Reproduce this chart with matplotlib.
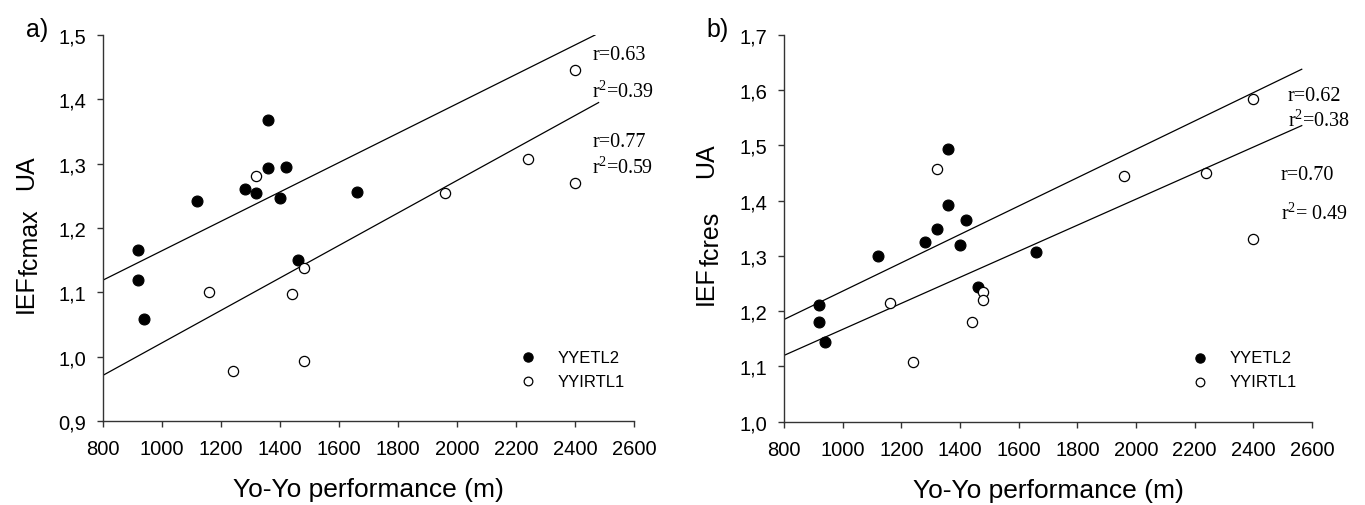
import matplotlib
matplotlib.use("Agg")
import matplotlib.pyplot as plt
from matplotlib.ticker import FuncFormatter, MultipleLocator

# ---------------- data ----------------
# Panel a: IEF fcmax
a_etl2_x = [920, 920, 940, 1120, 1280, 1320, 1360, 1360, 1400, 1420, 1460, 1660]
a_etl2_y = [1.166, 1.119, 1.059, 1.242, 1.260, 1.254, 1.368, 1.293, 1.246, 1.295, 1.150, 1.256]
a_irtl_x = [1160, 1240, 1320, 1440, 1480, 1480, 1960, 2240, 2400, 2400]
a_irtl_y = [1.100, 0.978, 1.281, 1.097, 1.138, 0.994, 1.255, 1.308, 1.445, 1.270]
a_fit_upper_x = [800, 2468]
a_fit_upper_y = [1.119, 1.500]
a_fit_lower_x = [800, 2480]
a_fit_lower_y = [0.971, 1.395]

# Panel b: IEF fcres
b_etl2_x = [920, 920, 940, 1120, 1280, 1320, 1360, 1360, 1400, 1420, 1460, 1660]
b_etl2_y = [1.211, 1.181, 1.144, 1.300, 1.325, 1.349, 1.493, 1.393, 1.319, 1.365, 1.243, 1.307]
b_irtl_x = [1160, 1240, 1320, 1440, 1480, 1480, 1960, 2240, 2400, 2400]
b_irtl_y = [1.214, 1.108, 1.457, 1.181, 1.234, 1.220, 1.444, 1.451, 1.585, 1.331]
b_fit_upper_x = [800, 2565]
b_fit_upper_y = [1.185, 1.638]
b_fit_lower_x = [800, 2565]
b_fit_lower_y = [1.120, 1.536]

legend_labels = ["YYETL2", "YYIRTL1"]
xlabel = "Yo-Yo performance (m)"
a_ylabel_parts = ["IEF", "fcmax", "UA"]
b_ylabel_parts = ["IEF", "fcres", "UA"]
a_stats = [("r=0.63", 2458, 1.470), (r"r$^{\mathregular{2}}$=0.39", 2458, 1.413),
           ("r=0.77", 2458, 1.334), (r"r$^{\mathregular{2}}$=0.59", 2458, 1.295)]
b_stats = [("r=0.62", 2518, 1.590), (r"r$^{\mathregular{2}}$=0.38", 2518, 1.545),
           ("r=0.70", 2494, 1.448), (r"r$^{\mathregular{2}}$= 0.49", 2494, 1.378)]

# ---------------- style ----------------
plt.rcParams['font.family'] = ['Liberation Sans', 'DejaVu Sans']
plt.rcParams['mathtext.fontset'] = 'custom'
plt.rcParams['mathtext.rm'] = 'Liberation Serif'
plt.rcParams['mathtext.default'] = 'regular'

fig = plt.figure(figsize=(13.65, 5.06), dpi=100)
W, H = 1365, 506
ax_a = fig.add_axes([103 / W, (H - 422) / H, 531 / W, 386 / H])
ax_b = fig.add_axes([784 / W, (H - 422.7) / H, 528 / W, 386.7 / H])

comma = FuncFormatter(lambda v, p: f"{v:.1f}".replace(".", ","))


def draw(ax, ex, ey, ix, iy, fux, fuy, flx, fly, ylim, stats, leg_x):
    ax.plot(fux, fuy, color='black', lw=0.9, zorder=2)
    ax.plot(flx, fly, color='black', lw=0.9, zorder=2)
    ax.scatter(ex, ey, s=62, facecolor='black', edgecolor='black', lw=0.8,
               zorder=3, label=legend_labels[0])
    ax.scatter(ix, iy, s=54, facecolor='white', edgecolor='black', lw=0.9,
               zorder=3, label=legend_labels[1])
    ax.set_xlim(800, 2600)
    ax.set_ylim(*ylim)
    ax.xaxis.set_major_locator(MultipleLocator(200))
    ax.yaxis.set_major_locator(MultipleLocator(0.1))
    ax.yaxis.set_major_formatter(comma)
    for s in ['top', 'right']:
        ax.spines[s].set_visible(False)
    for s in ['left', 'bottom']:
        ax.spines[s].set_color('#333333')
        ax.spines[s].set_linewidth(1.0)
    ax.tick_params(axis='both', direction='out', length=4, width=1.0,
                   color='#333333', labelsize=14.5)
    ax.tick_params(axis='x', pad=9)
    ax.tick_params(axis='y', pad=8)
    ax.set_xlabel(xlabel, fontsize=19)
    ax.xaxis.set_label_coords(0.5, -0.145)
    for t, x, y in stats:
        ax.text(x, y, t, fontsize=14.5, family=['Liberation Serif', 'DejaVu Serif'],
                ha='left', va='center', clip_on=False)
    ax.legend(loc='center left', bbox_to_anchor=(leg_x, 0.134), frameon=False,
              fontsize=12, handletextpad=0.75, labelspacing=0.55,
              markerscale=0.85, borderpad=0)


def vlabel(parts, xs, ys, size=18):
    # rotated y-label composed of pieces; xs = baseline x (px), ys = start y (px from top)
    for txt, x, y in zip(parts, xs, ys):
        fig.text(x / W, 1 - y / H, txt, rotation=90, rotation_mode='anchor',
                 ha='left', va='baseline', fontsize=size)


draw(ax_a, a_etl2_x, a_etl2_y, a_irtl_x, a_irtl_y, a_fit_upper_x, a_fit_upper_y,
     a_fit_lower_x, a_fit_lower_y, (0.9, 1.5), a_stats, 0.754)
draw(ax_b, b_etl2_x, b_etl2_y, b_irtl_x, b_irtl_y, b_fit_upper_x, b_fit_upper_y,
     b_fit_lower_x, b_fit_lower_y, (1.0, 1.7), b_stats, 0.741)

vlabel(a_ylabel_parts, [33, 38, 33], [313, 276, 190])
vlabel(b_ylabel_parts, [713, 719, 713], [305, 266, 178])

fig.text(37 / W, 1 - 30 / H, "a)", fontsize=18, ha='center', va='center')
fig.text(718 / W, 1 - 30 / H, "b)", fontsize=18, ha='center', va='center')

fig.savefig("out.png", dpi=100, facecolor='white')
